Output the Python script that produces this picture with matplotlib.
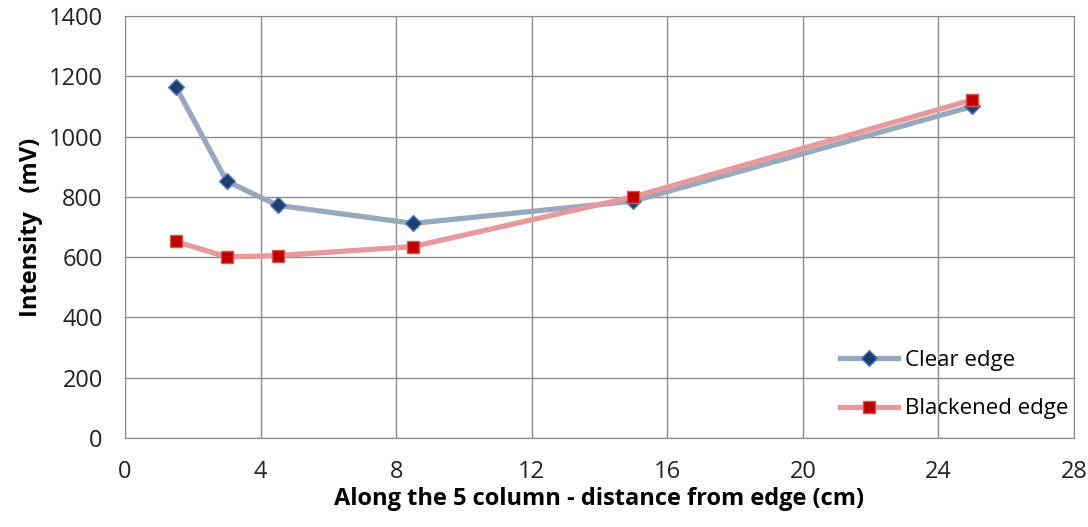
import matplotlib
matplotlib.use('Agg')
import matplotlib.pyplot as plt

# distances from edge (cm)
distance = [1.5, 3, 4.5, 8.5, 15, 25]
clear_edge = [1165, 852, 772, 712, 786, 1100]
blackened_edge = [652, 601, 605, 635, 800, 1122]

x_ticks = [0, 4, 8, 12, 16, 20, 24, 28]
y_ticks = [0, 200, 400, 600, 800, 1000, 1200, 1400]

plt.rcParams['font.family'] = ['Open Sans', 'DejaVu Sans']

fig = plt.figure(figsize=(10.88, 5.27), dpi=100)
ax = fig.add_axes([0.1149, 0.1689, 0.8722, 0.8007])

ax.plot(distance, clear_edge, color='#98a9be', linewidth=3.8, marker='D', markersize=8,
        markerfacecolor='#1f3d6d', markeredgecolor='#4f81bd', markeredgewidth=1, label='Clear edge')
ax.plot(distance, blackened_edge, color='#e8999b', linewidth=3.8, marker='s', markersize=8,
        markerfacecolor='#c00000', markeredgecolor='#d9534f', markeredgewidth=1, label='Blackened edge')

ax.set_xlim(0, 28)
ax.set_ylim(0, 1400)
ax.set_xticks(x_ticks)
ax.set_yticks(y_ticks)
ax.grid(True, color='#8c8c8c', linewidth=1)
ax.set_axisbelow(True)
for s in ax.spines.values():
    s.set_color('#8c8c8c')
ax.tick_params(length=0, labelsize=17, colors='#222222')
ax.tick_params(axis='y', pad=16)
ax.tick_params(axis='x', pad=16)

ax.set_xlabel('Along the 5 column - distance from edge (cm)', fontsize=17, fontweight='bold', labelpad=2)
ax.set_ylabel('Intensity   (mV)', fontsize=17, fontweight='bold', labelpad=4)

# legend sits inside, bottom right, no frame
leg = ax.legend(loc='lower right', bbox_to_anchor=(1.01, 0.007), frameon=False, fontsize=16,
                handlelength=2.6, handletextpad=0.3, labelspacing=1.25, borderaxespad=0.3)

fig.savefig('out.png', dpi=100, facecolor='white')
